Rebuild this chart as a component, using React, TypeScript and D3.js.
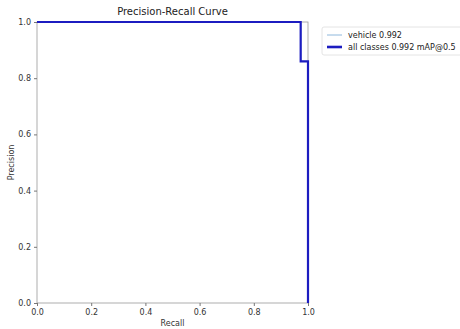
import { useEffect, useRef } from "react";
import * as d3 from "d3";

const recall = [0, 0.973, 0.973, 1.0, 1.0];
const precisionVehicle = [1, 1, 0.86, 0.86, 0];
const precisionAll = [1, 1, 0.86, 0.86, 0];
const ticks = [0, 0.2, 0.4, 0.6, 0.8, 1.0];
const legendLabels = ["vehicle 0.992", "all classes 0.992 mAP@0.5"];

const W = 460;
const H = 329;
const M = { left: 37, right: 152, top: 22, bottom: 26 };
const FONT = "DejaVu Sans, sans-serif";

export default function App() {
  const ref = useRef<SVGSVGElement | null>(null);

  useEffect(() => {
    if (!ref.current) return;
    const svg = d3.select(ref.current);
    svg.selectAll("*").remove();

    const x = d3.scaleLinear().domain([0, 1]).range([M.left, W - M.right]);
    const y = d3.scaleLinear().domain([0, 1]).range([H - M.bottom, M.top]);

    svg.append("rect").attr("width", W).attr("height", H).attr("fill", "#fff");

    const line = d3
      .line<number>()
      .x((_, i) => x(recall[i]))
      .y((d) => y(d));

    // curves under the frame
    svg
      .append("path")
      .datum(precisionVehicle)
      .attr("d", line)
      .attr("fill", "none")
      .attr("stroke", "#8fb8dc")
      .attr("stroke-width", 1);
    svg
      .append("path")
      .datum(precisionAll)
      .attr("d", line)
      .attr("fill", "none")
      .attr("stroke", "#1c1cc0")
      .attr("stroke-width", 2.2);

    // frame
    svg
      .append("rect")
      .attr("x", x(0))
      .attr("y", y(1))
      .attr("width", x(1) - x(0))
      .attr("height", y(0) - y(1))
      .attr("fill", "none")
      .attr("stroke", "#999")
      .attr("stroke-width", 0.8);

    const xAxis = svg
      .append("g")
      .attr("transform", `translate(0,${y(0)})`)
      .call(d3.axisBottom(x).tickValues(ticks).tickFormat(d3.format(".1f")).tickSize(3));
    const yAxis = svg
      .append("g")
      .attr("transform", `translate(${x(0)},0)`)
      .call(d3.axisLeft(y).tickValues(ticks).tickFormat(d3.format(".1f")).tickSize(3));
    [xAxis, yAxis].forEach((a) => {
      a.select(".domain").remove();
      a.selectAll("line").attr("stroke", "#777");
      a.selectAll("text")
        .attr("font-family", FONT)
        .attr("font-size", 8)
        .attr("fill", "#333");
    });
    // pull the curve back on top of the frame edges
    svg.selectAll("path").raise();
    xAxis.raise();
    yAxis.raise();

    svg
      .append("text")
      .attr("x", (x(0) + x(1)) / 2)
      .attr("y", 15)
      .attr("text-anchor", "middle")
      .attr("font-family", FONT)
      .attr("font-size", 10)
      .attr("fill", "#222")
      .text("Precision-Recall Curve");

    svg
      .append("text")
      .attr("x", (x(0) + x(1)) / 2)
      .attr("y", H - 3)
      .attr("text-anchor", "middle")
      .attr("font-family", FONT)
      .attr("font-size", 8)
      .attr("fill", "#333")
      .text("Recall");

    svg
      .append("text")
      .attr("transform", `translate(14,${(y(0) + y(1)) / 2}) rotate(-90)`)
      .attr("text-anchor", "middle")
      .attr("font-family", FONT)
      .attr("font-size", 8)
      .attr("fill", "#333")
      .text("Precision");

    // legend
    const lg = svg.append("g").attr("transform", "translate(322,27)");
    lg.append("rect")
      .attr("width", 140)
      .attr("height", 28)
      .attr("rx", 2)
      .attr("fill", "#fff")
      .attr("stroke", "#ddd")
      .attr("stroke-width", 0.8);
    const colors = ["#8fb8dc", "#1c1cc0"];
    const widths = [1, 2.6];
    legendLabels.forEach((lab, i) => {
      const ly = 8 + i * 12;
      lg.append("line")
        .attr("x1", 5)
        .attr("x2", 20)
        .attr("y1", ly)
        .attr("y2", ly)
        .attr("stroke", colors[i])
        .attr("stroke-width", widths[i]);
      lg.append("text")
        .attr("x", 26)
        .attr("y", ly + 3)
        .attr("font-family", FONT)
        .attr("font-size", 8)
        .attr("fill", "#222")
        .text(lab);
    });
  }, []);

  return (
    <div style={{ position: "fixed", left: 0, top: 0 }}>
      <svg ref={ref} width={W} height={H} />
    </div>
  );
}
